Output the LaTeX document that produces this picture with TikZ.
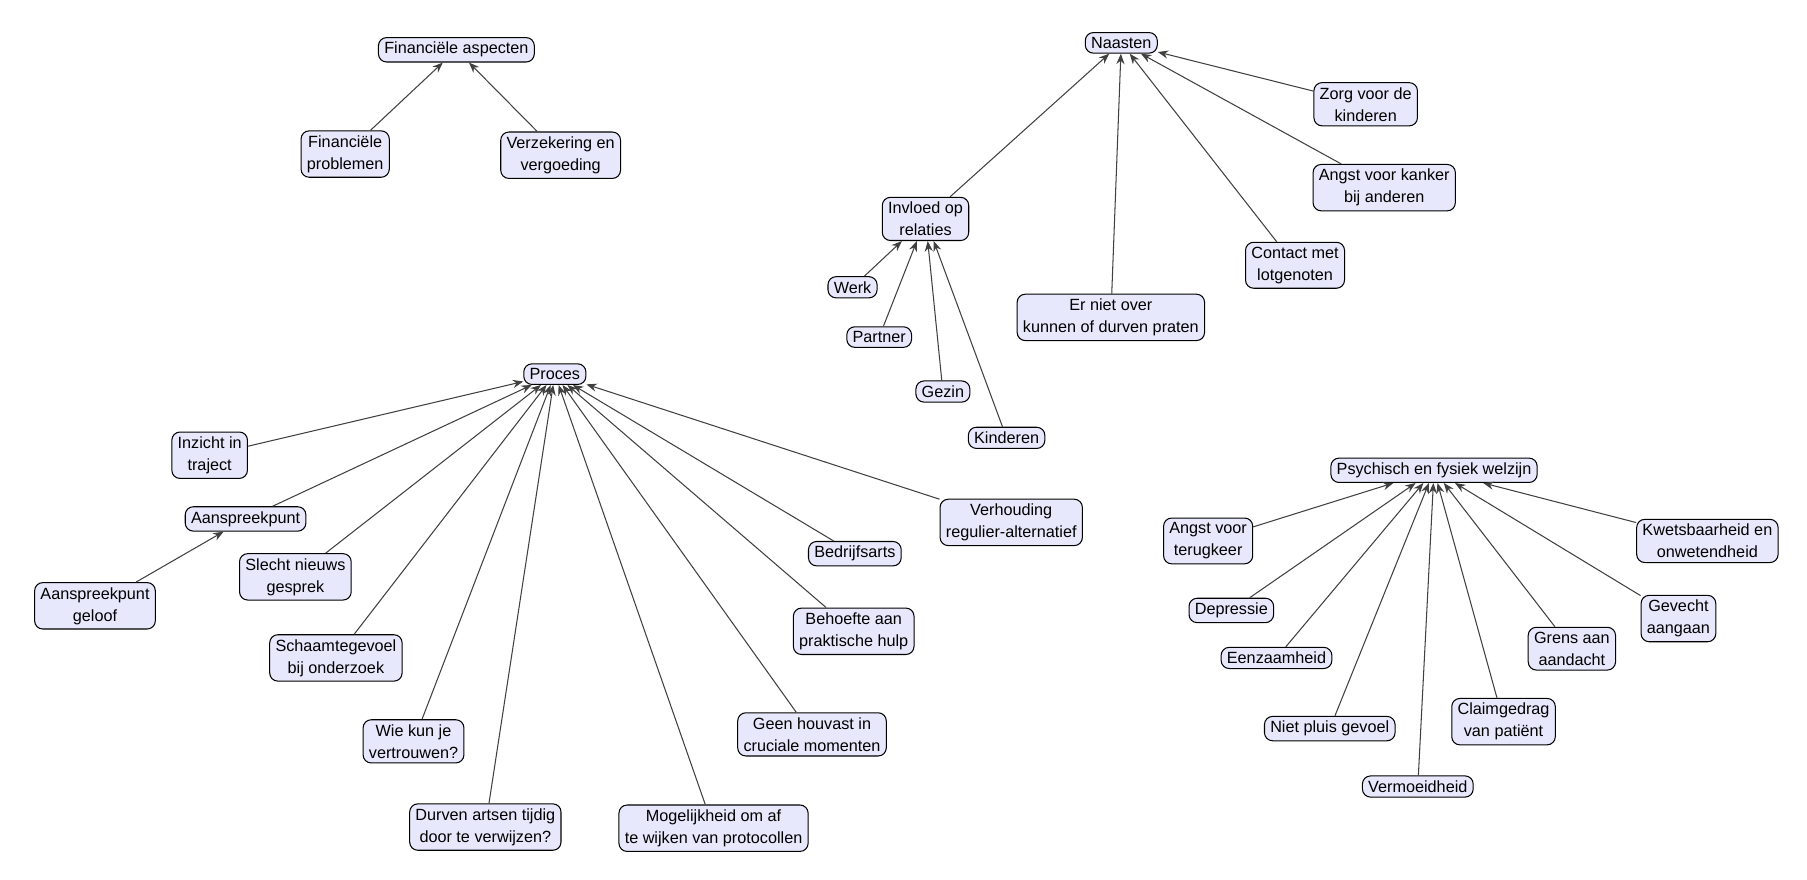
\documentclass[tikz,border=0pt]{standalone}
\usepackage{fontspec}
\setmainfont{Liberation Sans}
\usetikzlibrary{arrows.meta}
\definecolor{nfill}{HTML}{E8E8FC}
\definecolor{ln}{HTML}{404040}
\begin{document}
\begin{tikzpicture}[x=1pt,y=-1pt,
  n/.style={draw=black,fill=nfill,rounded corners=7pt,align=center,font=\fontsize{14}{19}\selectfont,inner xsep=5pt,inner ysep=4pt,line width=0.9pt},
  a/.style={draw=ln,line width=0.9pt,-{Stealth[length=9pt,width=7pt]}}]
\useasboundingbox (0,0) rectangle (1560,759);
\fill[white] (0,0) rectangle (1560,759);
\node[n] (fa) at (394,43) {Financiële aspecten};
\node[n] (fp) at (298,133) {Financiële\\problemen};
\node[n] (vv) at (484,134) {Verzekering en\\vergoeding};
\node[n] (na) at (968,37) {Naasten};
\node[n] (zk) at (1179,90) {Zorg voor de\\kinderen};
\node[n] (ak) at (1195,162) {Angst voor kanker\\bij anderen};
\node[n] (cl) at (1118,229) {Contact met\\lotgenoten};
\node[n] (en) at (959,274) {Er niet over\\kunnen of durven praten};
\node[n] (ir) at (799,189) {Invloed op\\relaties};
\node[n] (we) at (736,248) {Werk};
\node[n] (pa) at (759,291) {Partner};
\node[n] (ge) at (814,338) {Gezin};
\node[n] (ki) at (869,378) {Kinderen};
\node[n] (pr) at (479,323) {Proces};
\node[n] (it) at (181,393) {Inzicht in\\traject};
\node[n] (as) at (212,448) {Aanspreekpunt};
\node[n] (ag) at (82,523) {Aanspreekpunt\\geloof};
\node[n] (sn) at (255,498) {Slecht nieuws\\gesprek};
\node[n] (sg) at (290,568) {Schaamtegevoel\\bij onderzoek};
\node[n] (wk) at (357,640) {Wie kun je\\vertrouwen?};
\node[n] (da) at (419,714) {Durven artsen tijdig\\door te verwijzen?};
\node[n] (mo) at (616,715) {Mogelijkheid om af\\te wijken van protocollen};
\node[n] (gh) at (701,634) {Geen houvast in\\cruciale momenten};
\node[n] (bh) at (737,545) {Behoefte aan\\praktische hulp};
\node[n] (ba) at (738,478) {Bedrijfsarts};
\node[n] (vr) at (873,451) {Verhouding\\regulier-alternatief};
\node[n] (pf) at (1238,406) {Psychisch en fysiek welzijn};
\node[n] (at) at (1043,467) {Angst voor\\terugkeer};
\node[n] (de) at (1063,527) {Depressie};
\node[n] (ee) at (1102,568) {Eenzaamheid};
\node[n] (np) at (1148,629) {Niet pluis gevoel};
\node[n] (vm) at (1224,679) {Vermoeidheid};
\node[n] (cp) at (1298,623) {Claimgedrag\\van patiënt};
\node[n] (gr) at (1357,560) {Grens aan\\aandacht};
\node[n] (gv) at (1449,534) {Gevecht\\aangaan};
\node[n] (kw) at (1474,467) {Kwetsbaarheid en\\onwetendheid};
\foreach \c in {fp,vv} \draw[a] (\c) -- (fa);
\foreach \c in {zk,ak,cl,en,ir} \draw[a] (\c) -- (na);
\foreach \c in {we,pa,ge,ki} \draw[a] (\c) -- (ir);
\foreach \c in {it,as,sn,sg,wk,da,mo,gh,bh,ba,vr} \draw[a] (\c) -- (pr);
\draw[a] (ag) -- (as);
\foreach \c in {at,de,ee,np,vm,cp,gr,gv,kw} \draw[a] (\c) -- (pf);
\end{tikzpicture}
\end{document}
